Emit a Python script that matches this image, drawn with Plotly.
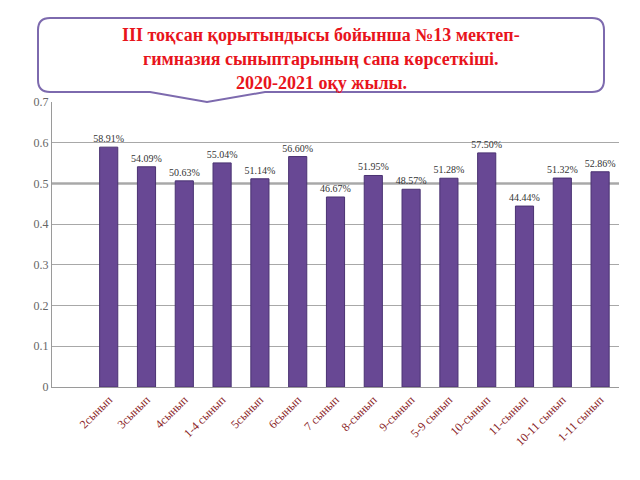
import plotly.graph_objects as go

categories = ["2сынып", "3сынып", "4сынып", "1-4 сынып", "5сынып", "6сынып", "7 сынып",
              "8-сынып", "9-сынып", "5-9 сынып", "10-сынып", "11-сынып", "10-11 сынып", "1-11 сынып"]
values = [0.5891, 0.5409, 0.5063, 0.5504, 0.5114, 0.5660, 0.4667,
          0.5195, 0.4857, 0.5128, 0.5750, 0.4444, 0.5132, 0.5286]
ytick_vals = [0, 0.1, 0.2, 0.3, 0.4, 0.5, 0.6, 0.7]
ytick_text = ["0", "0.1", "0.2", "0.3", "0.4", "0.5", "0.6", "0.7"]
title_lines = ["III тоқсан қорытындысы бойынша №13 мектеп-",
               "гимназия сыныптарының сапа көрсеткіші.",
               "2020-2021 оқу жылы."]

L, R, T, B = 52, 619, 102, 387
W, H = 640, 480

def px(x):
    return (x - L) / (R - L)

def py(y):
    return (B - y) / (B - T)

fig = go.Figure()
fig.add_trace(go.Bar(
    x=list(range(len(categories))), y=values,
    width=0.48,
    marker=dict(color="#684894", line=dict(color="#4a3272", width=1)),
    texttemplate="%{y:.2%}", textposition="outside", constraintext="none",
    textfont=dict(family="Liberation Serif", size=10, color="#333333"),
    cliponaxis=False,
))

# darker 0.5 gridline
fig.add_shape(type="line", xref="paper", yref="y", x0=0, x1=1, y0=0.5, y1=0.5,
              line=dict(color="#808080", width=2), layer="below")

# callout box
x0, x1 = px(38), px(604)
y0, y1 = py(18), py(92)
rx, ry = 12 / (R - L), 12 / (B - T)
bl, br = px(150), px(265)
tx, ty = px(207), py(102)
path = (f"M {x0+rx},{y0} L {x1-rx},{y0} Q {x1},{y0} {x1},{y0-ry} "
        f"L {x1},{y1+ry} Q {x1},{y1} {x1-rx},{y1} "
        f"L {br},{y1} L {tx},{ty} L {bl},{y1} "
        f"L {x0+rx},{y1} Q {x0},{y1} {x0},{y1+ry} "
        f"L {x0},{y0-ry} Q {x0},{y0} {x0+rx},{y0} Z")
fig.add_shape(type="path", xref="paper", yref="paper", path=path,
              line=dict(color="#7d6aae", width=2), fillcolor="white", layer="above")

for line, yy in zip(title_lines, [35, 59, 83]):
    fig.add_annotation(text="<b>" + line + "</b>", xref="paper", yref="paper",
                       x=px(321), y=py(yy), showarrow=False,
                       font=dict(family="Liberation Serif", size=18, color="#e8141c"),
                       xanchor="center", yanchor="middle")

fig.update_layout(
    width=W, height=H,
    margin=dict(l=L, r=W - R, t=T, b=H - B),
    paper_bgcolor="white", plot_bgcolor="white",
    showlegend=False,
)
fig.update_xaxes(
    range=[-1.5, 13.5], tickmode="array",
    tickvals=list(range(len(categories))), ticktext=categories,
    tickangle=-45, tickfont=dict(family="Liberation Serif", size=12, color="#8b1f2a"),
    showline=True, linecolor="#9a9a9a", linewidth=1, showgrid=False, ticks="",
)
fig.update_yaxes(
    range=[0, 0.7], tickmode="array", tickvals=ytick_vals, ticktext=ytick_text,
    showgrid=True, gridcolor="#a8a8a8", gridwidth=1,
    showline=True, linecolor="#9a9a9a", linewidth=1, zeroline=False,
    tickfont=dict(family="Liberation Serif", size=12, color="#666666"),
    ticks="",
)

fig.write_html("out.html")
